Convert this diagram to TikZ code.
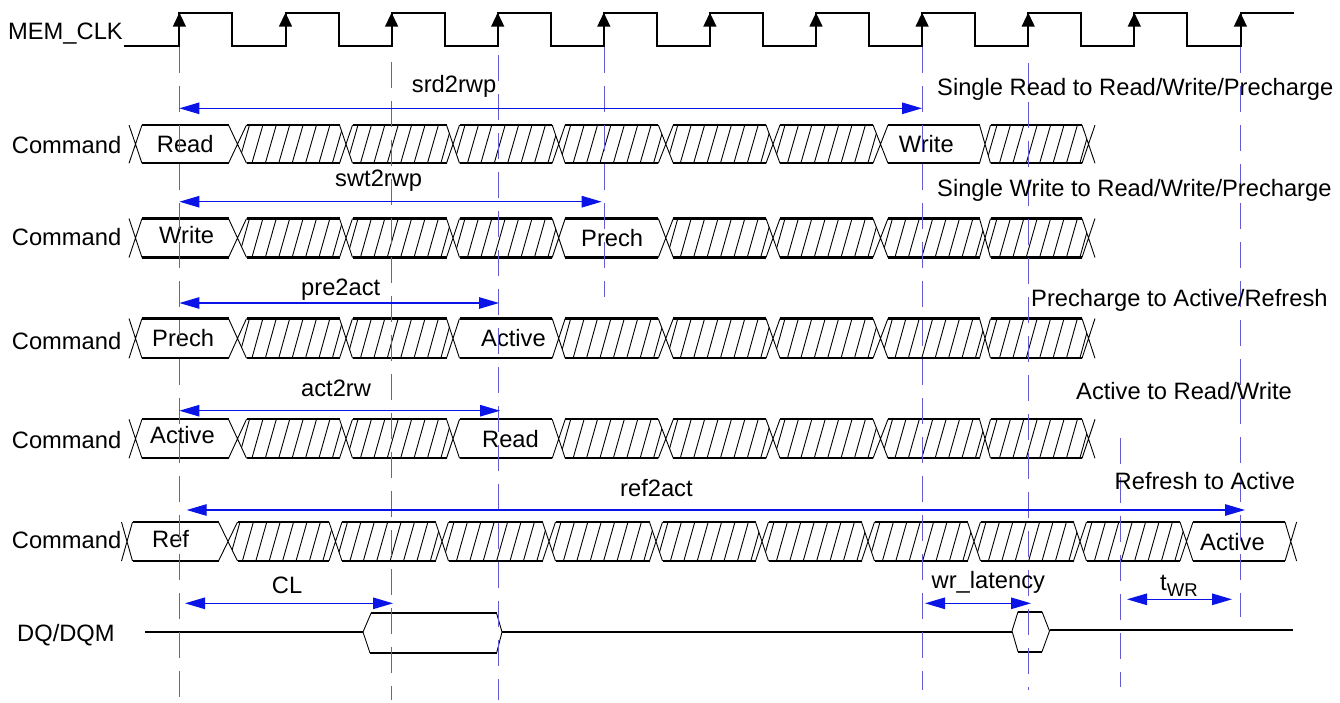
\documentclass[tikz,border=0pt]{standalone}
\usepackage{fontspec}
\setmainfont{Liberation Sans}
\usetikzlibrary{arrows.meta}
\definecolor{guidecol}{RGB}{100,90,210}
\definecolor{dimcol}{RGB}{10,20,230}
\tikzset{
  lbl/.style={font=\fontsize{23.7}{28}\selectfont, inner sep=0pt, anchor=base west},
  clk/.style={line width=2pt, line join=miter},
  busedge/.style={line width=2.2pt},
  xline/.style={line width=0.9pt},
  hatchl/.style={line width=0.9pt},
  guide/.style={draw=guidecol, line width=0.9pt, dash pattern=on 26pt off 13pt},
  dim/.style={draw=dimcol, line width=1.2pt, {Triangle[length=20pt,width=11.5pt]}-{Triangle[length=20pt,width=11.5pt]}}
}
\newcommand\busrow[6]{%
  \pgfmathsetmacro\btop{#1}%
  \pgfmathsetmacro\bbot{#2}%
  \pgfmathsetmacro\bmid{(#1+#2)/2}%
  \foreach \i in {0,...,#5}{%
    \pgfmathsetmacro\bxc{{#3}[\i]}%
    \pgfmathsetmacro\bxh{{#4}[\i]}%
    \draw[xline] (\bxc-\bxh,\btop) -- (\bxc+\bxh,\bbot) (\bxc-\bxh,\bbot) -- (\bxc+\bxh,\btop);
  }%
  \pgfmathtruncatemacro\blast{#5-1}%
  \foreach \i in {0,...,\blast}{%
    \pgfmathtruncatemacro\bxj{\i+1}%
    \pgfmathsetmacro\bxa{{#3}[\i]}\pgfmathsetmacro\bha{{#4}[\i]}%
    \pgfmathsetmacro\bxb{{#3}[\bxj]}\pgfmathsetmacro\bhb{{#4}[\bxj]}%
    \draw[busedge] (\bxa+\bha,\btop) -- (\bxb-\bhb,\btop) (\bxa+\bha,\bbot) -- (\bxb-\bhb,\bbot);
  }%
  \foreach \i in {#6}{%
    \pgfmathtruncatemacro\bxj{\i+1}%
    \pgfmathsetmacro\bxa{{#3}[\i]}\pgfmathsetmacro\bha{{#4}[\i]}%
    \pgfmathsetmacro\bxb{{#3}[\bxj]}\pgfmathsetmacro\bhb{{#4}[\bxj]}%
    \begin{scope}
      \clip (\bxa+\bha,\btop) -- (\bxb-\bhb,\btop) -- (\bxb,\bmid) -- (\bxb-\bhb,\bbot) -- (\bxa+\bha,\bbot) -- (\bxa,\bmid) -- cycle;
      \foreach \k in {0,...,8}{\draw[hatchl] (\bxa+1+13.4*\k,\bbot) -- (\bxa+12+13.4*\k,\btop);}
    \end{scope}
  }%
}
\begin{document}
\begin{tikzpicture}[x=1pt,y=-1pt]
\useasboundingbox (0,0) rectangle (1340,702);

% ---------- clock ----------
\node[lbl] (clkname) at (8,39.5) {MEM\_CLK};
\draw[clk] (124,45.7)
  \foreach \k in {0,...,9}{ -- (179.4+106.1*\k,45.7) -- (179.4+106.1*\k,12.7) -- (232.4+106.1*\k,12.7) -- (232.4+106.1*\k,45.7)}
  -- (1240.5,45.7) -- (1240.5,12.7) -- (1294,12.7);
\foreach \k in {0,...,10}{\fill (179.4+106.1*\k,12.7) -- ++(-6.7,14) -- ++(13.4,0) -- cycle;}

% ---------- command rows ----------
\def\ca{135.5,237.5,346,453,558.7,665.8,773,880.5,985,1088.5}
\def\ha{6.5,9,6.5,6.5,6.5,7.5,7,7.5,5.5,6.5}
\busrow{125}{163.3}{\ca}{\ha}{9}{1,2,3,4,5,6,8}
\busrow{218.5}{257.5}{\ca}{\ha}{9}{1,2,3,5,6,7,8}
\busrow{318.5}{358.3}{\ca}{\ha}{9}{1,2,4,5,6,7,8}
\busrow{419.3}{458.3}{\ca}{\ha}{9}{1,2,4,5,6,7,8}
\busrow{522}{561}{127,228,335.5,442,549,656,762,868,974,1080,1186.5,1290.8}{5.5,9.5,6.5,6.5,6.5,6.5,6.5,6.5,6.5,6.5,6.5,5.8}{11}{1,2,3,4,5,6,7,8,9}

\node[lbl] (cmd1) at (11.7,153.3) {Command};
\node[lbl] (r1a) at (156.7,152) {Read};
\node[lbl] (r1b) at (898.6,152) {Write};
\node[lbl] (cmd2) at (11.7,245.5) {Command};
\node[lbl] (r2a) at (159,243.5) {Write};
\node[lbl] (r2b) at (581,246.5) {Prech};
\node[lbl] (cmd3) at (11.7,349) {Command};
\node[lbl] (r3a) at (152,346.7) {Prech};
\node[lbl] (r3b) at (481,346.7) {Active};
\node[lbl] (cmd4) at (11.7,448.3) {Command};
\node[lbl] (r4a) at (150,443.3) {Active};
\node[lbl] (r4b) at (482,447.3) {Read};
\node[lbl] (cmd5) at (11.7,548.3) {Command};
\node[lbl] (r5a) at (152,547.7) {Ref};
\node[lbl] (r5b) at (1200,550) {Active};

% ---------- DQ/DQM ----------
\node[lbl] (dqname) at (17,641.7) {DQ/DQM};
\draw[busedge] (145,632) -- (363,632);
\draw[xline] (371,613.3) -- (363,632) -- (370,653);
\draw[busedge] (371,613.3) -- (496.6,613.3) (370,653) -- (496.6,653);
\draw[xline] (496.6,613.3) -- (502,632) -- (496.6,653);
\draw[busedge] (502,632) -- (1012,632);
\draw[xline] (1018,611.7) -- (1012,631) -- (1018,651.7);
\draw[busedge] (1018,611.7) -- (1042,611.7) (1018,651.7) -- (1042,651.7);
\draw[xline] (1042,611.7) -- (1049.5,631) -- (1042,651.7);
\draw[busedge] (1049.5,630) -- (1293,630);

% ---------- guides ----------
\draw[guide] (179.4,47) -- (179.4,700);
\draw[guide] (391.7,62) -- (391.7,700);
\draw[guide] (498,55) -- (498,700);
\draw[guide] (604,47) -- (604,297);
\draw[guide] (922.5,47) -- (922.5,690);
\draw[guide] (1028.5,63) -- (1028.5,690);
\draw[guide] (1120.5,438) -- (1120.5,687);
\draw[guide] (1240.5,47) -- (1240.5,617);

% ---------- dimension arrows ----------
\coordinate (srdA) at (179.4,108.3); \coordinate (srdB) at (922,108.3);
\draw[dim] (srdA) -- (srdB);
\node[lbl] (srd) at (411.7,92.3) {srd2rwp};
\node[lbl] (srdt) at (937,95) {Single Read to Read/Write/Precharge};

\coordinate (swtA) at (179.4,201.7); \coordinate (swtB) at (601.7,201.7);
\draw[dim] (swtA) -- (swtB);
\node[lbl] (swt) at (335,186) {swt2rwp};
\node[lbl] (swtt) at (937,196.7) {Single Write to Read/Write/Precharge};

\coordinate (preA) at (179.4,303); \coordinate (preB) at (499,303);
\draw[dim] (preA) -- (preB);
\node[lbl] (pre) at (301,295) {pre2act};
\node[lbl] (pret) at (1031,306) {Precharge to Active/Refresh};

\coordinate (actA) at (179.4,410.7); \coordinate (actB) at (500,410.7);
\draw[dim] (actA) -- (actB);
\node[lbl] (act) at (301,396.7) {act2rw};
\node[lbl] (actt) at (1076,399) {Active to Read/Write};

\coordinate (refA) at (186.7,510); \coordinate (refB) at (1245,510);
\draw[dim] (refA) -- (refB);
\node[lbl] (ref) at (620,496.7) {ref2act};
\node[lbl] (reft) at (1114.5,489.3) {Refresh to Active};

\coordinate (clA) at (185,603.3); \coordinate (clB) at (393,603.3);
\draw[dim] (clA) -- (clB);
\node[lbl] (cl) at (271.7,593.3) {CL};

\coordinate (wrA) at (925,603.3); \coordinate (wrB) at (1031,603.3);
\draw[dim] (wrA) -- (wrB);
\node[lbl] (wr) at (931.5,588) {wr\_latency};

\coordinate (twA) at (1127,599.3); \coordinate (twB) at (1232,599.3);
\draw[dim] (twA) -- (twB);
\node[lbl] (tw) at (1160,590) {t\raisebox{-6.7pt}{\fontsize{18.5}{22}\selectfont WR}};
\end{tikzpicture}
\end{document}
